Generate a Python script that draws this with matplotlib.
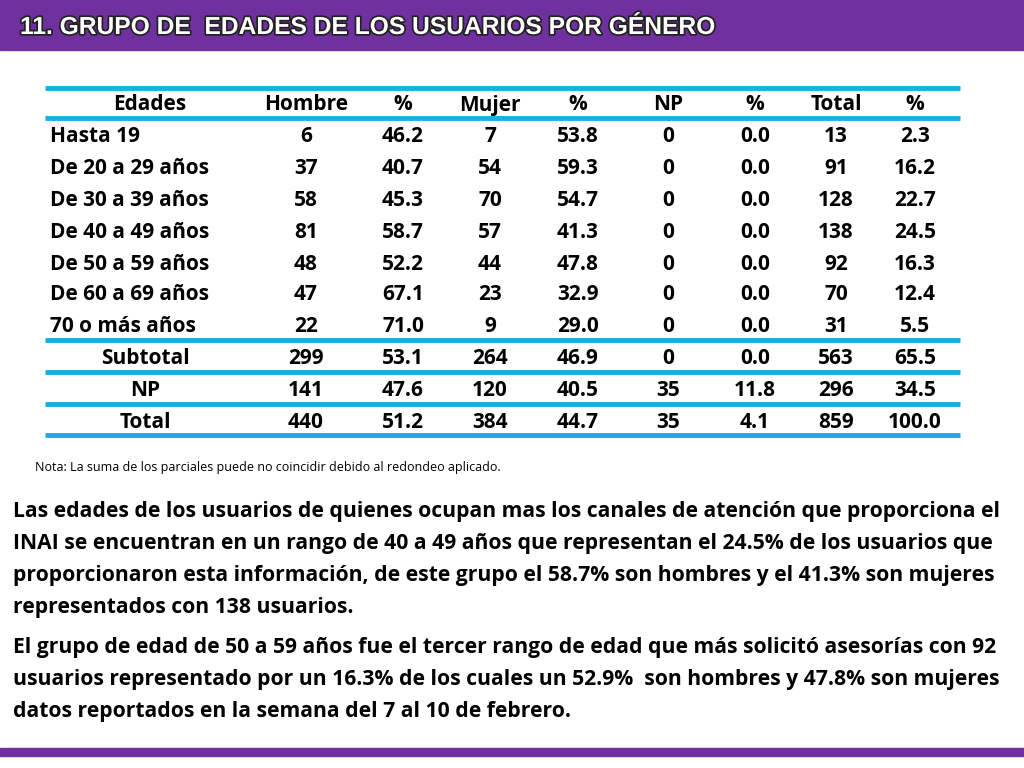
import matplotlib
matplotlib.use("Agg")
import matplotlib.pyplot as plt
import matplotlib.patheffects as pe

columns = ["Edades", "Hombre", "%", "Mujer", "%", "NP", "%", "Total", "%"]
row_labels = ["Hasta 19", "De 20 a 29 años", "De 30 a 39 años", "De 40 a 49 años",
              "De 50 a 59 años", "De 60 a 69 años", "70 o más años", "Subtotal", "NP", "Total"]
hombre = ["6", "37", "58", "81", "48", "47", "22", "299", "141", "440"]
hombre_pct = ["46.2", "40.7", "45.3", "58.7", "52.2", "67.1", "71.0", "53.1", "47.6", "51.2"]
mujer = ["7", "54", "70", "57", "44", "23", "9", "264", "120", "384"]
mujer_pct = ["53.8", "59.3", "54.7", "41.3", "47.8", "32.9", "29.0", "46.9", "40.5", "44.7"]
np_vals = ["0", "0", "0", "0", "0", "0", "0", "0", "35", "35"]
np_pct = ["0.0", "0.0", "0.0", "0.0", "0.0", "0.0", "0.0", "0.0", "11.8", "4.1"]
total = ["13", "91", "128", "138", "92", "70", "31", "563", "296", "859"]
total_pct = ["2.3", "16.2", "22.7", "24.5", "16.3", "12.4", "5.5", "65.5", "34.5", "100.0"]

title = "11. GRUPO DE  EDADES DE LOS USUARIOS POR GÉNERO"
note = "Nota: La suma de los parciales puede no coincidir debido al redondeo aplicado."
para1 = ["Las edades de los usuarios de quienes ocupan mas los canales de atención que proporciona el",
         "INAI se encuentran en un rango de 40 a 49 años que representan el 24.5% de los usuarios que",
         "proporcionaron esta información, de este grupo el 58.7% son hombres y el 41.3% son mujeres",
         "representados con 138 usuarios."]
para2 = ["El grupo de edad de 50 a 59 años fue el tercer rango de edad que más solicitó asesorías con 92",
         "usuarios representado por un 16.3% de los cuales un 52.9%  son hombres y 47.8% son mujeres",
         "datos reportados en la semana del 7 al 10 de febrero."]

purple = "#7030A0"
blue = "#1CADE4"
font = "Open Sans"

fig = plt.figure(figsize=(10.24, 7.68), dpi=100)
ax = fig.add_axes([0, 0, 1, 1])
ax.set_xlim(0, 1024)
ax.set_ylim(768, 0)
ax.axis("off")

ax.add_patch(plt.Rectangle((0, 0), 1024, 50, color=purple))
ax.add_patch(plt.Rectangle((0, 748), 1024, 8, color=purple))
ax.text(20, 27, title, color="white", fontsize=17.7, fontweight="bold", family="Liberation Sans",
        va="center", ha="left",
        path_effects=[pe.withStroke(linewidth=2.5, foreground="#222222")])

col_x = [150, 306, 403, 490, 578, 668, 755, 836, 915]
header_y = 105
row_y = [137, 168, 200, 232, 264, 295, 327, 358, 390, 422]
fs = 15
for x, c in zip(col_x, columns):
    ax.text(x, header_y, c, ha="center", va="center", fontsize=fs, fontweight="bold", family=font)

data_cols = [hombre, hombre_pct, mujer, mujer_pct, np_vals, np_pct, total, total_pct]
for i, (lab, y) in enumerate(zip(row_labels, row_y)):
    if i < 7:
        ax.text(50, y, lab, ha="left", va="center", fontsize=fs, fontweight="bold", family=font)
    else:
        ax.text(145, y, lab, ha="center", va="center", fontsize=fs, fontweight="bold", family=font)
    for x, col in zip(col_x[1:], data_cols):
        ax.text(x, y, col[i], ha="center", va="center", fontsize=fs, fontweight="bold", family=font)

for ly in [88, 118, 340, 372, 404, 435]:
    ax.plot([45, 960], [ly, ly], color=blue, lw=3.5, solid_capstyle="butt")

ax.text(35, 468, note, ha="left", va="center", fontsize=9, family=font)

for j, line in enumerate(para1):
    ax.text(13, 512 + j * 32, line, ha="left", va="center", fontsize=15.2, fontweight="bold", family=font)
for j, line in enumerate(para2):
    ax.text(13, 648 + j * 32, line, ha="left", va="center", fontsize=15.2, fontweight="bold", family=font)

fig.savefig("out.png", dpi=100)
